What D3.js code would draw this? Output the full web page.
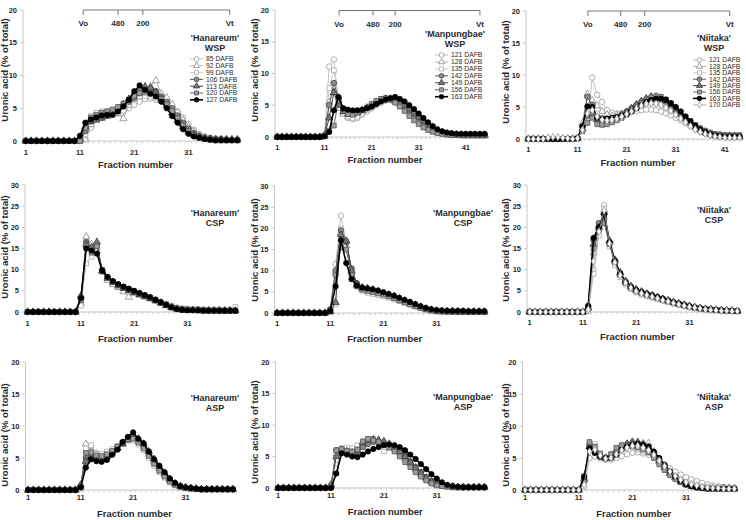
<!DOCTYPE html>
<html><head><meta charset="utf-8">
<script src="https://cdn.jsdelivr.net/npm/d3@7"></script>
<style>body{margin:0;background:#fff}svg{display:block}text{font-family:Arial,"Liberation Sans",sans-serif}</style>
</head><body><svg id="c" width="746" height="520"></svg>
<script>
// ---------------- DATA ----------------
const xTickLabels = [1, 11, 21, 31, 41];
const yTicks20 = [0, 5, 10, 15, 20];
const yTicks30 = [0, 5, 10, 15, 20, 25, 30];
const hanareumDAFB = ["85 DAFB","92 DAFB","99 DAFB","106 DAFB","113 DAFB","120 DAFB","127 DAFB"];
const manpungbaeDAFB = ["121 DAFB","128 DAFB","135 DAFB","142 DAFB","149 DAFB","156 DAFB","163 DAFB"];
const niitakaDAFB = ["121 DAFB","128 DAFB","135 DAFB","142 DAFB","149 DAFB","156 DAFB","163 DAFB","170 DAFB"];
const markerLabels = ["Vo","480","200","Vt"];
const hanareumMarkerFractions = [11.6, 18.0, 22.6, 38.6];
const manpungbaeMarkerFractions = [14.1, 21.3, 26.0, 44.0];
const niitakaMarkerFractions = [13.1, 19.8, 24.7, 42.0];

const hanareumWSP = [
[0,0,0,0,0,0,0,0,0,0, 0,0.3,2.0,3.3,3.6,3.8,4.0,4.2,4.6,5.0, 5.5,6.0,6.4,6.5,6.3,6.1,5.8,5.2,4.5,3.6, 2.6,1.7,1.1,0.7,0.5,0.4,0.3,0.3,0.2,0.2],
[0,0,0,0,0,0,0,0,0,0, 0,0.2,2.5,3.5,4.0,4.1,4.0,4.2,3.4,5.5, 6.4,7.2,7.9,8.3,9.2,7.2,6.6,5.6,4.4,3.2, 2.2,1.4,0.8,0.5,0.3,0.2,0.2,0.2,0.2,0.2],
[0,0,0,0,0,0,0,0,0,0, 0,1.0,3.8,4.3,4.5,4.6,4.8,5.0,5.6,6.0, 6.5,6.8,6.9,6.8,6.6,6.2,5.5,4.6,3.6,2.6, 1.6,0.9,0.5,0.3,0.2,0.1,0.1,0.1,0.1,0.1],
[0,0,0,0,0,0,0,0,0,0, 0,1.5,3.0,3.4,3.6,3.9,4.3,4.8,5.3,6.0, 6.6,7.3,7.8,8.0,7.6,6.8,6.0,5.0,3.9,2.8, 1.9,1.2,0.8,0.5,0.4,0.3,0.3,0.2,0.2,0.2],
[0,0,0,0,0,0,0,0,0,0, 0.3,2.2,3.0,3.2,3.5,3.8,4.4,5.0,5.6,6.4, 7.2,7.9,8.3,8.1,7.4,6.4,5.4,4.3,3.2,2.2, 1.4,0.9,0.6,0.4,0.3,0.2,0.2,0.2,0.2,0.2],
[0,0,0,0,0,0,0,0,0,0, 0,2.0,3.6,4.0,4.3,4.5,4.8,5.2,5.7,6.3, 6.9,7.3,7.4,7.3,7.0,6.4,5.6,4.6,3.5,2.4, 1.5,0.9,0.5,0.3,0.2,0.1,0.1,0.1,0.1,0.1],
[0,0,0,0,0,0,0,0,0,0, 0.8,2.8,3.3,3.6,3.9,4.0,4.0,4.5,5.3,6.3, 7.6,8.5,7.8,7.2,6.8,6.0,5.0,3.8,2.8,1.8, 1.1,0.7,0.5,0.3,0.2,0.1,0.1,0.1,0.1,0.1]
];
const manpungbaeWSP = [
[0,0,0,0,0,0,0,0,0,0, 0.2,11.1,12.2,5.5,3.8,3.0,2.8,3.0,3.5,4.0, 4.5,5.0,5.4,5.7,5.9,5.8,5.5,5.1,4.6,4.0, 3.3,2.6,1.9,1.3,0.9,0.6,0.4,0.3,0.3,0.2, 0.2,0.2,0.2,0.2,0.2],
[0,0,0,0,0,0,0,0,0,0, 0.1,5.5,7.0,4.5,3.6,3.2,3.3,3.6,4.0,4.4, 4.8,5.3,5.7,5.9,5.8,5.6,5.2,4.7,4.1,3.4, 2.7,2.0,1.4,1.0,0.7,0.5,0.4,0.3,0.3,0.3, 0.2,0.2,0.2,0.2,0.2],
[0,0,0,0,0,0,0,0,0,0, 0.2,7.7,10.5,6.0,4.0,3.2,3.0,3.2,3.7,4.2, 4.7,5.2,5.6,5.8,5.9,5.7,5.4,4.9,4.3,3.6, 2.9,2.2,1.6,1.1,0.8,0.5,0.4,0.3,0.3,0.3, 0.3,0.3,0.3,0.3,0.3],
[0,0,0,0,0,0,0,0,0,0, 0.3,5.0,8.5,6.0,4.3,3.8,3.7,3.9,4.2,4.6, 5.0,5.5,5.9,6.1,6.0,5.7,5.3,4.8,4.2,3.6, 3.0,2.4,1.8,1.3,0.9,0.7,0.5,0.4,0.4,0.4, 0.3,0.3,0.3,0.3,0.3],
[0,0,0,0,0,0,0,0,0,0, 0.2,3.0,7.0,5.0,4.0,3.6,3.6,3.9,4.2,4.6, 5.0,5.4,5.8,6.0,6.0,5.8,5.4,5.0,4.4,3.8, 3.1,2.5,1.9,1.4,1.0,0.7,0.5,0.4,0.4,0.3, 0.3,0.3,0.3,0.3,0.3],
[0,0,0,0,0,0,0,0,0,0, 0.2,1.0,1.8,5.8,4.5,3.6,3.5,3.8,4.2,4.6, 5.2,5.7,6.0,6.1,5.9,5.4,4.8,4.1,3.3,2.6, 2.0,1.5,1.1,0.8,0.6,0.5,0.4,0.3,0.3,0.3, 0.3,0.3,0.3,0.3,0.3],
[0,0,0,0,0,0,0,0,0,0, 0.1,0.8,4.2,6.3,4.5,4.3,4.2,4.2,4.3,4.5, 4.8,5.2,5.6,5.9,6.1,6.3,6.0,5.6,5.0,4.4, 3.7,3.0,2.3,1.7,1.2,0.9,0.7,0.6,0.5,0.5, 0.5,0.5,0.5,0.5,0.5]
];
const niitakaWSP = [
[0,0,0,0,0,0,0,0,0,0, 0.1,1.5,2.6,9.6,6.9,5.8,4.5,4.1,4.0,4.0, 4.1,4.2,4.4,4.5,4.6,4.6,4.5,4.3,4.0,3.7, 3.3,2.9,2.5,2.0,1.6,1.2,0.9,0.7,0.5,0.4, 0.3,0.3,0.3,0.3],
[0,0,0,0,0,0,0,0,0,0, 0.1,2.5,7.0,6.0,5.2,4.3,3.8,3.6,3.7,3.9, 4.2,4.6,5.0,5.4,5.7,5.8,5.8,5.6,5.3,4.9, 4.4,3.8,3.2,2.6,2.0,1.5,1.1,0.8,0.6,0.5, 0.4,0.4,0.3,0.3],
[0,0,0,0,0,0,0,0,0,0, 0.1,1.8,4.5,5.5,4.0,3.2,3.0,3.1,3.3,3.6, 4.0,4.4,4.9,5.3,5.6,5.7,5.6,5.4,5.0,4.5, 3.9,3.3,2.7,2.1,1.6,1.2,0.9,0.7,0.5,0.4, 0.4,0.3,0.3,0.3],
[0,0,0,0,0,0,0,0,0,0, 0.1,2.0,6.6,5.3,3.4,3.0,3.0,3.1,3.4,3.8, 4.3,4.8,5.3,5.8,6.2,6.4,6.4,6.2,5.8,5.2, 4.5,3.8,3.1,2.4,1.8,1.3,0.9,0.7,0.5,0.4, 0.3,0.3,0.3,0.3],
[0,0,0,0,0,0,0,0,0,0, 0.1,1.6,3.6,4.0,3.0,2.8,2.8,3.0,3.3,3.7, 4.2,4.8,5.4,5.9,6.3,6.6,6.6,6.4,6.0,5.4, 4.7,4.0,3.3,2.6,2.0,1.5,1.1,0.8,0.6,0.5, 0.4,0.4,0.4,0.4],
[0,0,0,0,0,0,0,0,0,0, 0.1,1.2,2.5,3.3,2.3,2.2,2.3,2.6,2.9,3.3, 3.8,4.4,5.0,5.6,6.1,6.5,6.7,6.6,6.2,5.6, 4.9,4.2,3.5,2.8,2.2,1.7,1.3,1.0,0.8,0.7, 0.6,0.6,0.6,0.6],
[0,0,0,0,0,0,0,0,0,0, 0.1,2.0,5.1,5.0,3.3,3.2,3.2,3.3,3.4,3.6, 3.9,4.3,4.8,5.3,5.8,6.1,6.3,6.3,6.1,5.6, 5.0,4.3,3.5,2.8,2.1,1.5,1.1,0.8,0.6,0.5, 0.4,0.4,0.4,0.4],
[0,0,0,0,0.2,0.3,0.3,0.2,0.1,0, 0.1,1.4,4.0,4.5,3.5,3.0,2.9,3.0,3.2,3.5, 3.9,4.3,4.8,5.2,5.5,5.6,5.5,5.3,4.9,4.4, 3.8,3.2,2.6,2.0,1.5,1.1,0.8,0.6,0.4,0.3, 0.2,0.2,0.2,0.2]
];
const hanareumCSP = [
[0,0,0,0,0,0,0,0,0,0, 2.5,17.5,15.5,15.0,9.8,8.0,7.0,6.3,5.8,5.3, 4.8,4.3,3.8,3.3,2.8,2.2,1.7,1.2,0.9,0.7, 0.6,0.5,0.5,0.4,0.4,0.4,0.3,0.3,0.3,0.3],
[0,0,0,0,0,0,0,0,0,0, 2.0,17.8,16.0,14.5,9.5,7.5,6.5,5.8,4.8,3.5, 4.5,4.0,3.6,3.2,2.7,2.2,1.6,1.1,0.7,0.5, 0.4,0.4,0.3,0.3,0.3,0.3,0.3,0.3,0.3,0.3],
[0,0,0,0,0,0,0,0,0,0, 1.5,11.5,13.0,15.8,10.0,8.2,7.0,6.2,5.6,5.0, 4.5,4.0,3.5,3.1,2.6,2.2,1.8,1.5,1.0,0.8, 0.8,0.7,0.7,0.5,0.5,0.5,0.6,0.5,0.5,1.2],
[0,0,0,0,0,0,0,0,0,0, 3.0,16.5,15.0,16.0,9.6,8.2,7.2,6.4,5.8,5.3, 4.8,4.3,3.8,3.3,2.8,2.3,1.7,1.2,0.8,0.6, 0.5,0.5,0.4,0.4,0.4,0.4,0.3,0.3,0.3,0.3],
[0,0,0,0,0,0,0,0,0,0, 3.8,16.0,15.3,16.5,9.7,8.0,7.0,6.2,5.6,5.1, 4.6,4.1,3.7,3.2,2.7,2.1,1.5,1.0,0.7,0.5, 0.4,0.4,0.4,0.3,0.3,0.3,0.3,0.3,0.3,0.3],
[0,0,0,0,0,0,0,0,0,0, 2.8,15.5,14.0,15.5,9.9,8.1,7.1,6.4,5.9,5.4, 4.9,4.4,3.9,3.4,2.9,2.3,1.8,1.3,0.9,0.7, 0.6,0.5,0.5,0.5,0.4,0.4,0.4,0.3,0.3,0.3],
[0,0,0,0,0,0,0,0,0,0, 3.3,15.0,14.5,13.8,9.8,8.3,7.3,6.6,6.0,5.5, 5.0,4.5,4.0,3.5,2.9,2.3,1.7,1.1,0.7,0.5, 0.4,0.4,0.4,0.3,0.3,0.3,0.3,0.3,0.3,0.3]
];
const manpungbaeCSP = [
[0,0,0,0,0,0,0,0,0,0, 1.0,11.5,23.0,16.5,10.0,7.0,5.5,5.0,4.7,4.4, 4.1,3.8,3.4,3.0,2.6,2.1,1.7,1.3,0.9,0.6, 0.4,0.3,0.3,0.3,0.2,0.2,0.2,0.2,0.2,0.2],
[0,0,0,0,0,0,0,0,0,0, 0.5,9.5,19.0,16.0,9.5,6.5,5.8,5.5,5.2,4.8, 4.4,4.0,3.6,3.1,2.6,2.1,1.6,1.2,0.8,0.6, 0.4,0.3,0.3,0.3,0.3,0.2,0.2,0.2,0.2,0.2],
[0,0,0,0,0,0,0,0,0,0, 0.3,2.0,20.0,17.0,10.5,6.8,5.3,4.8,4.5,4.2, 3.9,3.6,3.2,2.8,2.4,2.0,1.5,1.1,0.8,0.5, 0.4,0.3,0.3,0.2,0.2,0.2,0.2,0.2,0.2,0.2],
[0,0,0,0,0,0,0,0,0,0, 0.8,10.0,19.5,16.8,10.5,7.0,6.0,5.6,5.3,5.0, 4.6,4.2,3.8,3.3,2.8,2.3,1.8,1.4,1.0,0.7, 0.5,0.4,0.4,0.3,0.3,0.3,0.3,0.3,0.3,0.3],
[0,0,0,0,0,0,0,0,0,0, 0.3,2.5,18.5,17.0,10.0,6.8,6.0,5.8,5.5,5.1, 4.7,4.3,3.9,3.4,2.9,2.4,1.9,1.4,1.0,0.7, 0.5,0.4,0.4,0.4,0.3,0.3,0.3,0.3,0.3,0.3],
[0,0,0,0,0,0,0,0,0,0, 0.5,9.0,15.5,15.0,9.0,6.3,5.5,5.2,4.9,4.6, 4.3,3.9,3.5,3.0,2.5,2.0,1.6,1.2,0.9,0.6, 0.4,0.4,0.3,0.3,0.3,0.3,0.3,0.3,0.3,0.3],
[0,0,0,0,0,0,0,0,0,0, 0.5,6.3,17.2,11.8,8.0,6.5,6.0,5.8,5.6,5.3, 4.9,4.5,4.1,3.6,3.1,2.6,2.1,1.6,1.2,0.9, 0.7,0.6,0.5,0.5,0.5,0.5,0.4,0.4,0.4,0.4]
];
const niitakaCSP = [
[0,0,0,0,0,0,0,0,0,0, 0,0.5,10.0,19.0,25.2,16.0,11.5,8.5,6.8,5.6, 4.9,4.4,4.0,3.6,3.2,2.8,2.5,2.1,1.8,1.5, 1.2,1.0,0.8,0.6,0.5,0.4,0.3,0.3,0.2,0.2],
[0,0,0,0,0,0,0,0,0,0, 0,1.0,14.0,20.5,24.0,16.5,12.0,8.8,6.9,5.8, 5.0,4.5,4.1,3.7,3.3,2.9,2.5,2.2,1.8,1.5, 1.2,1.0,0.8,0.6,0.5,0.4,0.3,0.3,0.2,0.2],
[0,0,0,0,0,0,0,0,0,0, 0,0.2,9.0,18.0,24.5,15.5,11.0,8.2,6.5,5.4, 4.6,4.1,3.7,3.4,3.0,2.7,2.3,2.0,1.7,1.4, 1.1,0.9,0.7,0.6,0.5,0.4,0.3,0.3,0.2,0.2],
[0,0,0,0,0,0,0,0,0,0, 0,1.2,17.0,21.0,22.0,16.5,12.2,9.2,7.2,6.0, 5.2,4.7,4.3,3.9,3.5,3.1,2.7,2.3,2.0,1.6, 1.3,1.1,0.9,0.7,0.6,0.5,0.4,0.3,0.3,0.2],
[0,0,0,0,0,0,0,0,0,0, 0,1.0,16.0,20.0,23.5,16.8,12.3,9.3,7.3,6.1, 5.3,4.8,4.3,3.9,3.5,3.1,2.7,2.3,2.0,1.7, 1.4,1.1,0.9,0.7,0.6,0.5,0.4,0.3,0.3,0.2],
[0,0,0,0,0,0,0,0,0,0, 0,0.8,15.0,19.5,21.0,16.0,11.8,8.9,7.0,5.8, 5.0,4.5,4.1,3.7,3.3,2.9,2.6,2.2,1.9,1.6, 1.3,1.0,0.8,0.7,0.6,0.5,0.4,0.3,0.3,0.2],
[0,0,0,0,0,0,0,0,0,0, 0,1.5,17.5,20.0,23.0,16.5,12.0,9.0,7.0,5.9, 5.2,4.7,4.3,3.9,3.5,3.1,2.7,2.3,2.0,1.7, 1.4,1.1,0.9,0.7,0.6,0.5,0.4,0.3,0.3,0.2],
[0,0,0,0,0,0,0,0,0,0, 0,0.6,12.0,19.0,24.0,16.2,11.7,8.7,6.9,5.7, 4.9,4.4,4.0,3.6,3.2,2.8,2.5,2.1,1.8,1.5, 1.2,1.0,0.8,0.6,0.5,0.4,0.3,0.3,0.2,0.2]
];
const hanareumASP = [
[0,0,0,0,0,0,0,0,0,0, 0.3,7.0,6.8,5.8,5.5,5.8,6.2,6.8,7.3,7.8, 7.9,7.5,6.6,5.4,4.2,3.1,2.1,1.3,0.8,0.5, 0.3,0.2,0.2,0.1,0.1,0.1,0.1,0.1,0.1,0.1],
[0,0,0,0,0,0,0,0,0,0, 0.5,7.2,6.0,5.5,5.3,5.6,6.0,6.6,7.2,7.7, 8.0,7.6,6.8,5.6,4.4,3.3,2.3,1.5,0.9,0.5, 0.3,0.2,0.2,0.1,0.1,0.1,0.1,0.1,0.1,0.1],
[0,0,0,0,0,0,0,0,0,0, 0.2,6.5,7.0,5.6,5.6,6.0,6.4,6.9,7.4,7.8, 7.7,7.1,6.2,5.0,3.8,2.8,1.9,1.2,0.7,0.4, 0.3,0.2,0.1,0.1,0.1,0.1,0.1,0.1,0.1,0.1],
[0,0,0,0,0,0,0,0,0,0, 0.6,5.0,5.5,5.2,5.1,5.4,5.9,6.6,7.3,7.9, 8.2,7.8,7.0,5.8,4.6,3.5,2.5,1.6,1.0,0.6, 0.4,0.3,0.2,0.1,0.1,0.1,0.1,0.1,0.1,0.1],
[0,0,0,0,0,0,0,0,0,0, 0.8,4.5,5.2,5.0,4.9,5.2,5.8,6.5,7.2,7.9, 8.4,8.0,7.2,6.0,4.8,3.6,2.6,1.7,1.0,0.6, 0.4,0.3,0.2,0.1,0.1,0.1,0.1,0.1,0.1,0.1],
[0,0,0,0,0,0,0,0,0,0, 0.5,5.8,5.9,5.4,5.3,5.6,6.1,6.8,7.4,7.9, 8.0,7.4,6.5,5.3,4.1,3.0,2.1,1.3,0.8,0.5, 0.3,0.2,0.2,0.1,0.1,0.1,0.1,0.1,0.1,0.1],
[0,0,0,0,0,0,0,0,0,0, 0.4,3.5,4.8,4.5,4.4,4.7,5.5,6.3,7.5,8.3, 9.0,8.0,7.3,6.0,4.8,3.8,2.8,1.8,1.1,0.6, 0.4,0.3,0.2,0.1,0.1,0.1,0.1,0.1,0.1,0.1]
];
const manpungbaeASP = [
[0,0,0,0,0,0,0,0,0,0, 0.2,4.5,6.0,5.8,5.6,5.8,6.5,7.2,7.5,7.4, 7.0,6.6,6.1,5.4,4.6,3.8,3.0,2.2,1.5,1.0, 0.6,0.4,0.3,0.2,0.1,0.1,0.1,0.1,0.1,0.1],
[0,0,0,0,0,0,0,0,0,0, 0.3,5.5,6.2,5.9,5.8,6.0,6.8,7.5,7.6,7.5, 7.2,6.8,6.3,5.6,4.8,3.9,3.0,2.2,1.5,1.0, 0.6,0.4,0.3,0.2,0.1,0.1,0.1,0.1,0.1,0.1],
[0,0,0,0,0,0,0,0,0,0, 0.2,3.0,6.3,6.4,6.3,6.8,6.0,7.8,7.8,7.4, 5.8,6.4,6.0,5.3,4.5,3.6,2.8,2.0,1.3,0.8, 0.5,0.3,0.2,0.1,0.1,0.1,0.1,0.1,0.1,0.1],
[0,0,0,0,0,0,0,0,0,0, 0.4,6.0,5.8,5.6,5.5,5.7,6.5,7.0,7.3,7.3, 7.2,6.9,6.5,5.9,5.1,4.2,3.3,2.5,1.7,1.1, 0.7,0.4,0.3,0.2,0.1,0.1,0.1,0.1,0.1,0.1],
[0,0,0,0,0,0,0,0,0,0, 0.5,5.0,6.0,5.8,5.6,5.9,7.2,7.6,7.7,7.6, 7.4,7.0,6.5,5.8,5.0,4.1,3.2,2.4,1.6,1.0, 0.6,0.4,0.3,0.2,0.1,0.1,0.1,0.1,0.1,0.1],
[0,0,0,0,0,0,0,0,0,0, 0.3,6.0,6.2,5.9,5.8,6.1,7.4,7.8,7.6,7.3, 6.9,6.4,5.8,5.0,4.1,3.3,2.5,1.8,1.2,0.7, 0.4,0.3,0.2,0.1,0.1,0.1,0.1,0.1,0.1,0.1],
[0,0,0,0,0,0,0,0,0,0, 0,2.3,5.5,5.3,5.0,4.9,5.3,5.8,6.2,6.5, 6.8,6.9,6.8,6.5,6.0,5.3,4.6,3.8,3.0,2.2, 1.5,0.9,0.5,0.3,0.2,0.1,0.1,0.1,0.1,0.1]
];
const niitakaASP = [
[0,0,0,0,0,0,0,0,0,0, 0,0.5,5.0,5.2,4.9,4.7,4.8,5.0,5.3,5.6, 5.8,5.9,5.7,5.5,5.1,4.6,4.0,3.4,2.9,2.4, 2.0,1.7,1.4,1.1,0.9,0.7,0.6,0.5,0.4,0.3],
[0,0,0,0,0,0,0,0,0,0, 0,1.5,7.3,6.5,5.5,5.0,5.1,5.8,6.5,7.0, 7.4,7.5,7.3,7.3,6.0,4.8,3.7,2.8,2.0,1.4, 1.0,0.7,0.5,0.4,0.3,0.3,0.2,0.2,0.2,0.2],
[0,0,0,0,0,0,0,0,0,0, 0,1.0,7.0,7.2,5.8,5.0,4.8,5.8,6.8,7.0, 6.8,6.3,6.0,5.8,5.2,4.3,3.5,2.7,2.0,1.5, 1.1,0.8,0.6,0.5,0.4,0.3,0.3,0.3,0.2,0.2],
[0,0,0,0,0,0,0,0,0,0, 0,2.2,7.0,6.0,5.2,4.9,5.2,6.0,6.7,7.1, 7.3,7.3,7.1,6.7,5.8,4.7,3.6,2.7,1.9,1.3, 0.9,0.6,0.4,0.3,0.2,0.2,0.2,0.2,0.2,0.2],
[0,0,0,0,0,0,0,0,0,0, 0,1.8,6.8,6.2,5.4,5.0,5.4,6.2,6.8,7.2, 7.5,7.4,7.1,6.6,5.6,4.5,3.5,2.6,1.9,1.3, 0.9,0.6,0.4,0.3,0.2,0.2,0.2,0.2,0.2,0.2],
[0,0,0,0,0,0,0,0,0,0, 0,1.5,7.5,6.8,5.6,5.0,5.6,6.6,7.0,7.0, 6.8,6.6,6.3,5.9,5.0,4.0,3.1,2.3,1.7,1.2, 0.8,0.6,0.4,0.3,0.3,0.2,0.2,0.2,0.2,0.2],
[0,0,0,0,0,0,0,0,0,0, 0,2.0,6.5,5.8,5.2,5.0,5.0,5.5,6.3,6.8, 7.1,7.2,7.0,6.8,6.0,5.0,3.9,2.9,2.1,1.4, 0.9,0.6,0.4,0.3,0.2,0.2,0.2,0.2,0.2,0.2],
[0,0,0,0,0,0,0,0,0,0, 0,0.8,6.0,6.3,5.4,4.9,5.0,5.6,6.2,6.6, 6.9,6.9,6.6,6.2,5.5,4.6,3.7,2.9,2.2,1.6, 1.2,0.9,0.7,0.5,0.4,0.3,0.3,0.2,0.2,0.2]
];

// ---------------- STYLES / LAYOUT ----------------
const seriesStyles = [
  {sym: d3.symbolCircle,   size: 24, fill: "#fff", stroke: "#9a9a9a", line: "#b4b4b4", lw: 0.8},
  {sym: d3.symbolTriangle, size: 22, fill: "#fff", stroke: "#8a8a8a", line: "#a0a0a0", lw: 0.8},
  {sym: d3.symbolSquare,   size: 22, fill: "#fff", stroke: "#a8a8a8", line: "#bdbdbd", lw: 0.8},
  {sym: d3.symbolCircle,   size: 24, fill: "#8a8a8a", stroke: "#444", line: "#555", lw: 1},
  {sym: d3.symbolTriangle, size: 22, fill: "#7a7a7a", stroke: "#333", line: "#444", lw: 1},
  {sym: d3.symbolSquare,   size: 22, fill: "#9c9c9c", stroke: "#555", line: "#666", lw: 1},
  {sym: d3.symbolCircle,   size: 22, fill: "#000", stroke: "#000", line: "#000", lw: 1.6},
  {sym: d3.symbolDiamond,  size: 16, fill: "#fff", stroke: "#999", line: "#aaa", lw: 0.8}
];

const panels = [
  {data: hanareumWSP,  names: hanareumDAFB,  t: ["'Hanareum'","WSP"],  yt: yTicks20, vm: hanareumMarkerFractions,
   L: {xl:23, xr:240, top:10, bot:141, tx:215, ty:41, lx:190, ly:59, ls:6.8, ytx:8, yty:70, tly:154.5, xty:168, vy:10}},
  {data: manpungbaeWSP, names: manpungbaeDAFB, t: ["'Manpungbae'","WSP"], yt: yTicks20, vm: manpungbaeMarkerFractions,
   L: {xl:275, xr:487, top:10, bot:137, tx:455, ty:37, lx:435, ly:55, ls:6.95, ytx:258, yty:70, tly:149.5, xty:163, vy:10.5}},
  {data: niitakaWSP,   names: niitakaDAFB,   t: ["'Niitaka'","WSP"],    yt: yTicks20, vm: niitakaMarkerFractions,
   L: {xl:526, xr:742, top:11, bot:139, tx:714, ty:41, lx:693, ly:60, ls:6.4, ytx:509, yty:72, tly:152, xty:166, vy:11}},
  {data: hanareumCSP,  names: null, t: ["'Hanareum'","CSP"],  yt: yTicks30,
   L: {xl:25, xr:238, top:185, bot:312, tx:215, ty:216, ytx:8, yty:247, tly:326, xty:341.5}},
  {data: manpungbaeCSP, names: null, t: ["'Manpungbae'","CSP"], yt: yTicks30,
   L: {xl:274.5, xr:487, top:186, bot:313, tx:463, ty:216, ytx:258, yty:250, tly:326, xty:341.5}},
  {data: niitakaCSP,   names: null, t: ["'Niitaka'","CSP"],  yt: yTicks30,
   L: {xl:527, xr:740, top:185, bot:312, tx:714, ty:213, ytx:509, yty:250, tly:324.5, xty:340}},
  {data: hanareumASP,  names: null, t: ["'Hanareum'","ASP"],  yt: yTicks20,
   L: {xl:25.5, xr:235.5, top:362, bot:490, tx:215, ty:401, ytx:8, yty:435, tly:499.5, xty:516.5}},
  {data: manpungbaeASP, names: null, t: ["'Manpungbae'","ASP"], yt: yTicks20,
   L: {xl:275.5, xr:487, top:362, bot:488, tx:463, ty:400, ytx:258, yty:432, tly:498, xty:515}},
  {data: niitakaASP,   names: null, t: ["'Niitaka'","ASP"],  yt: yTicks20,
   L: {xl:522.5, xr:737, top:362, bot:490, tx:714, ty:400, ytx:509, yty:435, tly:499.5, xty:516.5}}
];

const svg = d3.select("#c");
const txt = "#2a2a2a";

panels.forEach(p => {
  const L = p.L;
  const n = p.data[0].length;
  const yMax = p.yt[p.yt.length - 1];
  const x = d3.scaleLinear().domain([0.5, n + 0.5]).range([L.xl, L.xr]);
  const y = d3.scaleLinear().domain([0, yMax]).range([L.bot, L.top]);
  const g = svg.append("g");

  g.append("line").attr("x1", L.xl).attr("x2", L.xl).attr("y1", L.top).attr("y2", L.bot)
    .attr("stroke", "#c8c8c8").attr("stroke-width", 1);
  p.yt.forEach(v => {
    g.append("line").attr("x1", L.xl - 3).attr("x2", L.xl).attr("y1", y(v)).attr("y2", y(v))
      .attr("stroke", "#c8c8c8");
    g.append("text").attr("x", L.xl - 6).attr("y", y(v)).attr("dy", "0.35em")
      .attr("text-anchor", "end").attr("font-size", 7.5).attr("font-weight", "bold")
      .attr("fill", txt).text(v);
  });
  g.append("line").attr("x1", L.xl).attr("x2", L.xr).attr("y1", y(0)).attr("y2", y(0))
    .attr("stroke", "#c8c8c8");
  d3.range(0, n + 1).forEach(i => {
    g.append("line").attr("x1", x(i + 0.5)).attr("x2", x(i + 0.5)).attr("y1", y(0)).attr("y2", y(0) + 2.5)
      .attr("stroke", "#c8c8c8").attr("stroke-width", 0.8);
  });
  xTickLabels.filter(v => v <= n).forEach(v => {
    g.append("text").attr("x", x(v)).attr("y", L.tly).attr("text-anchor", "middle")
      .attr("font-size", 7.5).attr("font-weight", "bold").attr("fill", txt).text(v);
  });
  g.append("text").attr("x", (L.xl + L.xr) / 2 + 4).attr("y", L.xty).attr("text-anchor", "middle")
    .attr("font-size", 9.5).attr("font-weight", "bold").attr("fill", txt).text("Fraction number");
  g.append("text").attr("transform", `translate(${L.ytx},${L.yty}) rotate(-90)`)
    .attr("text-anchor", "middle").attr("font-size", 9.5).attr("font-weight", "bold")
    .attr("fill", txt).text("Uronic acid (% of total)");

  g.append("text").attr("x", L.tx).attr("y", L.ty).attr("text-anchor", "middle")
    .attr("font-size", 9).attr("font-weight", "bold").attr("fill", txt).text(p.t[0]);
  g.append("text").attr("x", L.tx).attr("y", L.ty + 10).attr("text-anchor", "middle")
    .attr("font-size", 9).attr("font-weight", "bold").attr("fill", txt).text(p.t[1]);

  const line = d3.line().x((d, i) => x(i + 1)).y(d => y(d));
  p.data.forEach((s, si) => {
    const st = seriesStyles[si];
    g.append("path").attr("d", line(s)).attr("fill", "none")
      .attr("stroke", st.line).attr("stroke-width", st.lw);
    g.selectAll(null).data(s).join("path")
      .attr("d", d3.symbol(st.sym, st.size))
      .attr("transform", (d, i) => `translate(${x(i + 1)},${y(d)})`)
      .attr("fill", st.fill).attr("stroke", st.stroke).attr("stroke-width", 0.8);
  });

  if (p.names) {
    p.names.forEach((nm, i) => {
      const st = seriesStyles[i];
      const yy = L.ly + i * L.ls;
      g.append("line").attr("x1", L.lx).attr("x2", L.lx + 13).attr("y1", yy).attr("y2", yy)
        .attr("stroke", st.line).attr("stroke-width", st.lw);
      g.append("path").attr("d", d3.symbol(st.sym, st.size * 0.75))
        .attr("transform", `translate(${L.lx + 6.5},${yy})`)
        .attr("fill", st.fill).attr("stroke", st.stroke).attr("stroke-width", 0.8);
      g.append("text").attr("x", L.lx + 16).attr("y", yy).attr("dy", "0.35em")
        .attr("font-size", 6.8).attr("fill", txt).text(nm);
    });
  }

  if (p.vm) {
    const xs = p.vm.map(v => x(v));
    g.append("line").attr("x1", xs[0]).attr("x2", xs[xs.length - 1]).attr("y1", L.vy).attr("y2", L.vy)
      .attr("stroke", "#777").attr("stroke-width", 1);
    xs.forEach((xx, i) => {
      g.append("line").attr("x1", xx).attr("x2", xx).attr("y1", L.vy).attr("y2", L.vy + 5)
        .attr("stroke", "#777").attr("stroke-width", 1);
      g.append("text").attr("x", xx).attr("y", L.vy + 16).attr("text-anchor", "middle")
        .attr("font-size", 8).attr("font-weight", "bold").attr("fill", txt).text(markerLabels[i]);
    });
  }
});
</script>
</body></html>
